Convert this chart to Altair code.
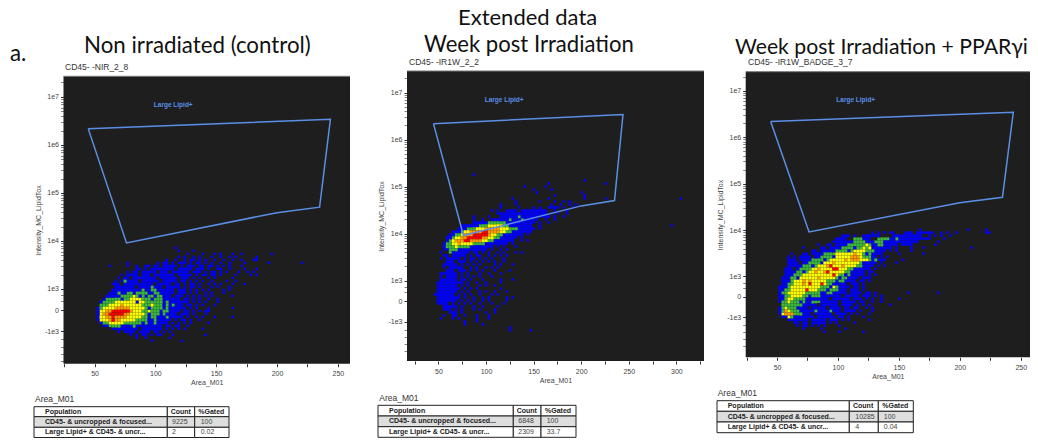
import math
import altair as alt
import pandas as pd

# ---- density maps: one character per cell ---------------------------
# . empty  b blue  g green  y yellow  o orange  r red
MAP_NIR = [
"...........................b",
"............................b....b",
"...............................b....b...b.b...b..b.........b",
"............................b.b..b.b...b..b..b.b......b",
"........................b..b..b.bb.b.b..b..b..b..b...bb",
"...........b.........b.bb.b.bbb.b.bb.b.b..b..b....b.......b..........b",
".....b.....b..b..bb.bb.bbbbb.b.bbb.bb.bb.b.b.b...b",
"..............bb.b.bbbbbbbb.bbbbb.bbb.b..bb..b....b...b",
"...........b.bb.bbbbb.bbb.bbbbbb.bbb.b.bb.b.b...b..b.b",
".........b.bbbb.bbb.bbbbbbb.bbbbb.b.bb.bb.b....b....b.b",
"........b.bb.bbbbbbbb.bbbbbb.bbb.b.b..b.b.....b",
".......b.bgbbbb.bbbbbb.bbbbb.bb.b.b.b..b....b..b",
"......bbb.bbbbbbbbbb.bbbbb.bb.b.bb.b..b.b.b...b...b",
".......bbbbbbb.bbbbgbbb.bbbbb.b.bb.b...b.b...b",
"......bbbbbbbbbbgbbggbbbbbb.bbb.b.b.b.b....b.b",
".....bbbgbbggbggggbbggbbbbb.bbb.b.b..b.b...b",
"....bbbbbggggygbgbggbggbbb.bbb.b.b.b.b.b......b",
"...bgggggbggyyyygggbgggbbbbbb.bb.b.b..b..b",
"..bggggyyyyyyybyyggggggbgbbbbbbb.b.b.b...b",
"..gggyyyyoyyyyyygggygggbgbgbbb.bb.b.b...b",
".bgyyyyoooooyyyyygbggggbgbbbbbb.b.b...b.......b",
".byyoorrrrrroyyyggygggbggbbbb.bb.b.b.bb",
".byoorrrrrooyyyyygbgggbgbbbb.bbb.b...b",
".byyoorooooyyyyyggbggbbbgbbbbb.b..b.b...b.....b",
".byyyorooyyyyyggggbbgbbbbb.b.bb.b..b",
"..bggyyyyyggggggbgbbgbbbb.b.b.b.b.....b",
"...bbggggbbbbgbbbbbbbbb.bb.bb..b",
"......bbbbbbbbb.bbbbbbb.b.b.b.b.....b",
"........b.bbbb.bbbb.bb.b.b",
"............b.b.bb.b.bb...b..........b",
"..............b..b.......b....",
"...................b.........b",
]

MAP_IR1W = [
".............b",
"",
"..................................................b",
"......................................b..................b",
"..............................b......b",
".................................b.....b",
"..................................b..............b",
"........................................b.........b",
"..........................b...........b...........b......b........................b",
"...........................b.......b....b..b.b",
"......................b....b...........b..b..b.b",
"......................b.....b....b.b..bbbb.b..b",
"...................b.b..bbbb.bbbbbbbbb..b...b",
".....................bbbbbbbbbbbbbbbbb.b.b..b",
".............b....b...bbbbbbgbbbbbbbbbb.b..b",
".............b..b..bbbbbbgbbbgbbbbb..b..b",
".............bbbbbggggggbbbbbbbbbb.b..b",
".........bbbbbbgggyyyyyggbbbbbbbb..b...........................................b",
"........bbbgggyyyoooooyyygggbbbbbb.b",
"......bbbgyyoooorrooooyyggbbbbbbb",
".....bbggyooorrrrroyyggbbbbbbb.b",
"....bbgyyoorrrrrooyyggbbbbbb.b",
"....bgyooorrooooyyggbbbbbbb..b.b",
"...bggyyoyyyyggggbbbbbbbb.b",
"...bgggyggggbbbbbbbb.b.b...b",
"...bbgggbbbbbbbbbb.b..b.b",
"..b..gbbbbbb.bb.b.b..b.b...b.b",
"...bb.bbbbb.b.bb..b.b.b.b",
"..b.bbbbb.b.bb.b.b.b...b",
"....bbb.bbb.b.b.b.b.b..b",
"...bbbbb.b.b.b.b....b.b...b",
"...b.bbbbb..b.b..b.b.b",
"....bbb.bbb.b.b.b...b....b",
"..bbbbbb.b.b...b..b...b",
"..b.bbbb.b.b.b.b...b",
"..bbbbbb.bb.b...b.....b...b",
".bbbbbbbbb.b..b..b....b",
".bbbbbbb.b.b...b.b..b",
".bbbbbbbb.b.b.b.......b",
".bbbbbbb.b.b...b.b..b...b",
"bbbbbbb.b.b.b..b...b.b",
".bbbbbbbb.b..b..b.b.....b.b",
".bbbbbbb.b.b.b..b.b.....b",
".bbbb.b.b.b.b..b...b...b",
"...bbbbb.b...b..b....b",
"...bbb.b.b...b.b....b",
".....bbb.b.......b..b",
"...b..bb..b...b...b",
"..b...b.b.....b...b",
"..........b...b",
"..........b.....b..............",
".........................b",
".........................b......b",
]

MAP_BADGE = [
"...............................................b...............b.....b",
"...............................b.b.b.bb...bbb.bbbbbb..b.b..b.........bb",
".....................bbb.b..bbbbbb....bbbbbbbbbb..b.b.b..b",
"...................bbbb..gggbbb..ggggbbgbbbbbbbbbbb....b",
"..................bbbbbbbggggbbbgggbbbbbbbbbbbb......b",
".............b..bb.bbbbggggggygbbggbbbbb.bbbb.......b",
"........b.....bb.bbbbggggbggygybbbbbbb.b....b...b...............b",
"...........bb.bbbbbggggbgyyyygggbbbb.b.b....b",
"....b...bb.bbbbggggyyyyyyoyygbgbbbb.....b.......b",
"...b.b.bbbb.bbggggbyyyyyoooygggbb.b.b",
"...bbb.bbbbggggbgyyyyyoyoooyyygbgbbb.....b",
"...bbbb.bbggggbyyyoyyyyyyyygbbbbb.b....b",
"...bbbbbgggbgyyyoryyyoyyyyggbbbb.b.b",
"..bbb.bggggyyoyyyyrryyyggbbbbbb.b",
"..bbbbggbgyyoyyoryyyyyggbbbbb.bb",
"..bbbgggyyyyyyyyyyryggbgbbbbb.b.b",
".bbbggbyyyyyyoyyyyygbggbbbb.bbb",
".bbbgyyyoyoyyyyygggbggbbbb.bb.b",
".bbggyyyoyryyyryggbbbbb.bbb.b",
"bbbgyyyyyyyyyygggbygbbbb.bb.b",
"bbggyyyyyryyygggbgggbbb.bbb.b",
"bggyyyyyygggggbbggbbbbb.bbbb.bb.b..........b.........b",
"bbggyyyyggbgggbbbbbbb.bbbbb.bbb.b.b",
"bbgyyggggbbbbbbbb.bbbbbb.bbb.b.b..b.....b",
"bggygggbgbbgggbbbbbb.bbbbb.bb..b..b",
".gggggggbbbbb.bbbbbb.bbbb.b.b.b......b",
"bgygggbbbb.bbbbb.bbbb.bb.bb..b.b",
"bgoygggbbbbbgbbbbgbbb.bbbb.b...b",
"byooogggbbb.bbbbbb.bbbb.b.b...b",
".bbygbbbbbbb.bbbbbb.bb.b....b",
"...bbbbbbb.bbbbb.bbb.b.b......b",
".....bb.bb.bbbbb.b.b.....b",
"......b.bb.b.b.b....b",
"........b.....b.......b",
"...............b....b.......b",
]

GATE_X = [44.8, 243.9, 235.0, 200.0, 76.3, 44.8]
GATE_Y = [6.34, 6.535, 4.705, 4.59, 3.96, 6.34]
GATE_LABEL = "Large Lipid+"

LEVELS = ["b", "g", "y", "o", "r"]
LEVEL_COLORS = ["#0000ff", "#3cb83c", "#ffff00", "#ff9a00", "#ff0000"]

Y_MAJOR = {7: "1e7", 6: "1e6", 5: "1e5", 4: "1e4", 3: "1e3", 2.56: "0", 2.12: "-1e3"}
TABLE_HEAD = ["Population", "Count", "%Gated"]
TABLE_POP = ["CD45- & uncropped & focused...", "Large Lipid+ & CD45- & uncr..."]
COUNTS = {"nir": ["9225", "2"], "ir": ["6848", "2309"], "badge": ["10285", "4"]}
GATED = {"nir": ["100", "0.02"], "ir": ["100", "33.7"], "badge": ["100", "0.04"]}

# ---- layout (page pixels) ----
W, H = 1022, 432
DARK = "#1e1e1e"
GATE_COLOR = "#5b8fe6"
SANS = "Liberation Sans"
HEAD = "Lato"
INK = "#444444"

PANELS = [
    dict(key="nir", name="CD45- -NIR_2_8", L=63.5, R=350, T=76.3, B=363.7,
         xdom=[24.5, 260.0], ydom=[1.444, 7.43], gx=49.2, gy=3.882, dx=2.467, dy=0.0625,
         grid=MAP_NIR, lab=(114.7, 6.83), xt=list(range(25, 260, 25)),
         tx=34, cols=[34, 167.3, 194.7, 229], rows=[406.7, 416.7, 427.3, 437.5], ax=35, ay=399,
         pop=45, cnt=170.7, gat=198.3, cv=172, gv=200.7, nx=65, ny=67),
    dict(key="ir", name="CD45- -IR1W_2_2", L=407, R=704, T=71, B=361,
         xdom=[17.0, 329.0], ydom=[1.29, 7.46], gx=45.1, gy=5.284, dx=3.15, dy=0.0638,
         grid=MAP_IR1W, lab=(119.0, 6.85), xt=list(range(25, 330, 25)),
         tx=378, cols=[378, 513.3, 541, 576], rows=[405.3, 416, 426.7, 437.3], ax=379.3, ay=398,
         pop=389, cnt=516.7, gat=545, cv=518.3, gv=546.7, nx=409, ny=62),
    dict(key="badge", name="CD45- -IR1W_BADGE_3_7", L=745.7, R=1030, T=71.7, B=357.3,
         xdom=[24.3, 257.6], ydom=[1.26, 7.41], gx=51.1, gy=4.036, dx=2.46, dy=0.0647,
         grid=MAP_BADGE, lab=(114.6, 6.81), xt=list(range(25, 256, 25)),
         tx=717, cols=[717, 849.3, 878.3, 913.3], rows=[400.7, 411.3, 422, 432.7], ax=717.7, ay=393,
         pop=727.7, cnt=853, gat=882.3, cv=855.3, gv=883.8, nx=748, ny=62),
]

HEADINGS = [
    ("a.", 10, 54, 22.3), ("Non irradiated (control)", 84, 46, 22.3),
    ("Extended data", 458, 18, 22), ("Week post Irradiation", 424, 45, 22.1),
    ("Week post Irradiation + PPAR\u03b3i", 735, 48, 21.2),
]

ONE = pd.DataFrame({"k": [0]})


def px(v):
    return v - 8


def label(text, x, y, size, color=INK, weight="normal", font=SANS):
    return alt.Chart(pd.DataFrame({"t": [text]})).mark_text(
        align="left", baseline="middle", fontSize=size, color=color, fontWeight=weight, font=font
    ).encode(x=alt.value(px(x)), y=alt.value(px(y)), text="t:N")


def cells_frame(p):
    out = []
    grid = p["grid"]
    filled = {(r, c) for r, row in enumerate(grid) for c, ch in enumerate(row) if ch in LEVELS}
    for r, c in filled:
        ch = grid[r][c]
        # an isolated cell is a little smaller than the grid step, joined cells touch
        fx = 1.0 if (r, c + 1) in filled else 0.8
        fy = 1.0 if (r + 1, c) in filled else 0.8
        out.append(dict(x=p["gx"] + c * p["dx"], x2=p["gx"] + (c + fx) * p["dx"],
                        y=p["gy"] - r * p["dy"], y2=p["gy"] - (r + fy) * p["dy"],
                        level=ch))
    return pd.DataFrame(out)


def y_ticks():
    vals = list(Y_MAJOR)
    for d in range(3, 7):
        for k in range(2, 10):
            vals.append(round(d + math.log10(k), 4))
    vals += [7.301, 2.75, 2.87, 1.95, 1.8, 1.65, 1.5]
    return vals


def panel(p):
    xs = alt.Scale(domain=p["xdom"], range=[px(p["L"]), px(p["R"])], nice=False, zero=False)
    ys = alt.Scale(domain=p["ydom"], range=[px(p["B"]), px(p["T"])], nice=False, zero=False)
    expr = " : ".join(f"datum.value == {k} ? '{v}'" for k, v in Y_MAJOR.items()) + " : ''"
    majors = " || ".join(f"datum.value == {k}" for k in Y_MAJOR)
    x_axis = alt.Axis(
        orient="bottom", values=p["xt"], labelExpr="datum.value % 50 == 0 ? datum.value : ''", grid=False,
        offset=px(p["B"]) - H, title="Area_M01", titleFont=SANS, titleFontSize=7, titleFontWeight="normal",
        titleColor=INK, titlePadding=2, labelFont=SANS, labelFontSize=7, labelColor=INK, tickSize=3,
        tickColor="#333333", domain=False, labelPadding=3, labelFlush=False,
    )
    y_axis = alt.Axis(
        orient="left", values=y_ticks(), labelExpr=expr, grid=False, offset=-px(p["L"]), title="Intensity_MC_LipidTox",
        titleFont=SANS, titleFontSize=7, titleFontWeight="normal", titleColor=INK, titlePadding=3,
        labelFont=SANS, labelFontSize=7, labelColor=INK, tickSize=3, tickColor="#333333",
        tickWidth=alt.expr(f"({majors}) ? 1 : 0.6"), domain=False, labelPadding=2, labelOverlap=False,
    )
    bg = alt.Chart(ONE).mark_rect(color=DARK).encode(
        x=alt.value(px(p["L"])), x2=alt.value(px(p["R"])),
        y=alt.value(px(p["T"])), y2=alt.value(px(p["B"])),
    )
    top = alt.Chart(ONE).mark_rule(color="#777777", strokeWidth=1).encode(
        x=alt.value(px(p["L"])), x2=alt.value(px(p["R"])), y=alt.value(px(p["T"])),
    )
    cells = alt.Chart(cells_frame(p)).mark_rect().encode(
        x=alt.X("x:Q", scale=xs, axis=x_axis), x2="x2:Q",
        y=alt.Y("y:Q", scale=ys, axis=y_axis), y2="y2:Q",
        color=alt.Color("level:N", scale=alt.Scale(domain=LEVELS, range=LEVEL_COLORS), legend=None),
    )
    gate_df = pd.DataFrame({"x": GATE_X, "y": GATE_Y, "i": range(len(GATE_X))})
    gate = alt.Chart(gate_df).mark_line(color=GATE_COLOR, strokeWidth=1.5).encode(
        x=alt.X("x:Q", scale=xs, axis=None), y=alt.Y("y:Q", scale=ys, axis=None), order="i:Q",
    )
    tag = alt.Chart(pd.DataFrame({"x": [p["lab"][0]], "y": [p["lab"][1]], "t": [GATE_LABEL]})).mark_text(
        color=GATE_COLOR, fontSize=6.5, fontWeight="bold", font=SANS,
    ).encode(x=alt.X("x:Q", scale=xs, axis=None), y=alt.Y("y:Q", scale=ys, axis=None), text="t:N")
    return [bg, top, cells, gate, tag]


def table(p):
    parts = [label("Area_M01", p["ax"], p["ay"], 8.5, "#333333")]
    cols, rows = p["cols"], p["rows"]
    for r in range(3):
        for c in range(3):
            parts.append(alt.Chart(ONE).mark_rect(
                fill="#dedede" if r == 1 else "white", stroke="#222222", strokeWidth=1,
            ).encode(x=alt.value(px(cols[c])), x2=alt.value(px(cols[c + 1])),
                     y=alt.value(px(rows[r])), y2=alt.value(px(rows[r + 1]))))
    mids = [(rows[i] + rows[i + 1]) / 2 for i in range(3)]
    parts.append(label(TABLE_HEAD[0], p["pop"], mids[0], 7, "#222222", "bold"))
    parts.append(label(TABLE_HEAD[1], p["cnt"], mids[0], 7, "#222222", "bold"))
    parts.append(label(TABLE_HEAD[2], p["gat"], mids[0], 7, "#222222", "bold"))
    for i in range(2):
        parts.append(label(TABLE_POP[i], p["pop"], mids[i + 1], 7, "#222222", "bold"))
        parts.append(label(COUNTS[p["key"]][i], p["cv"], mids[i + 1], 7, "#444444"))
        parts.append(label(GATED[p["key"]][i], p["gv"], mids[i + 1], 7, "#444444"))
    return parts


layers = []
for p in PANELS:
    layers += panel(p)
for p in PANELS:
    layers += table(p)
    layers.append(label(p["name"], p["nx"], p["ny"], 8.5, "#333333"))
for text, x, y, size in HEADINGS:
    layers.append(label(text, x, y, size, "#111111", font=HEAD))

chart = alt.layer(*layers).resolve_scale(x="independent", y="independent").resolve_axis(
    x="independent", y="independent"
).properties(
    width=W, height=H, padding=0, autosize=alt.AutoSizeParams(type="none"),
).configure_view(stroke=None).configure_axis(labelFontWeight="normal")

chart.save("out.html", embed_options={"renderer": "svg", "actions": False})
